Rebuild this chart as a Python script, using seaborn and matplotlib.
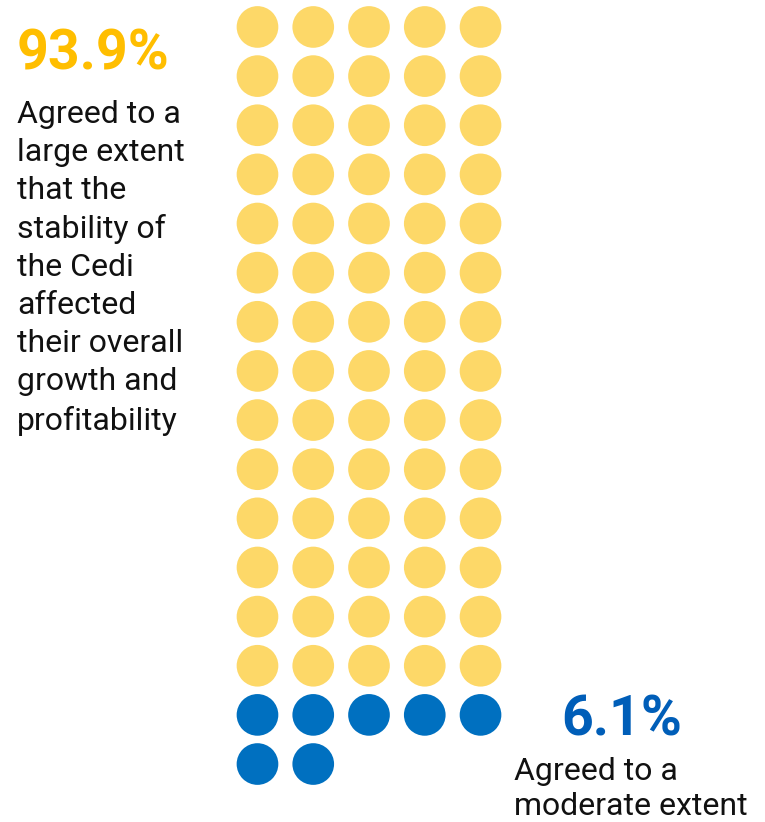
import numpy as np
import pandas as pd
import seaborn as sns
import matplotlib.pyplot as plt

# waffle dots: 5 per row, count of each group
groups = ["Large extent", "Moderate extent"]
counts = [70, 7]
colors = ["#FDD868", "#0070C0"]
n_cols = 5

shares = ["93.9%", "6.1%"]
share_colors = ["#FFBE00", "#005EB8"]
labels = ["Agreed to a\nlarge extent\nthat the\nstability of\nthe Cedi\naffected\ntheir overall\ngrowth and\nprofitability",
          "Agreed to a\nmoderate extent"]

sns.set_style("white")
plt.rcParams["font.family"] = ["Roboto", "DejaVu Sans"]

cat = np.repeat(groups, counts)
idx = np.arange(len(cat))
df = pd.DataFrame({"group": cat, "col": idx % n_cols, "row": idx // n_cols})

fig = plt.figure(figsize=(7.65, 8.22), dpi=100)
ax = fig.add_axes([229.6 / 765, 1 - 788.6 / 822, (508.4 - 229.6) / 765, (788.6 - 2.4) / 822])
sns.scatterplot(data=df, x="col", y="row", hue="group", palette=colors,
                s=900, linewidth=0, legend=False, ax=ax)
ax.set_xlim(-0.5, 4.5)
ax.set_ylim(15.5, -0.5)
ax.axis("off")

fig.text(17 / 765, 1 - 55 / 822, shares[0], color=share_colors[0], fontsize=40,
         fontweight="bold", va="center", ha="left")
fig.text(17 / 765, 1 - 100 / 822, labels[0], color="#111111", fontsize=23,
         fontweight="normal", va="top", ha="left", linespacing=1.39)

fig.text(561 / 765, 1 - 720 / 822, shares[1], color=share_colors[1], fontsize=40,
         fontweight="bold", va="center", ha="left")
fig.text(514 / 765, 1 - 757 / 822, labels[1], color="#111111", fontsize=23,
         fontweight="normal", va="top", ha="left", linespacing=1.25)

fig.savefig("out.png", dpi=100)
